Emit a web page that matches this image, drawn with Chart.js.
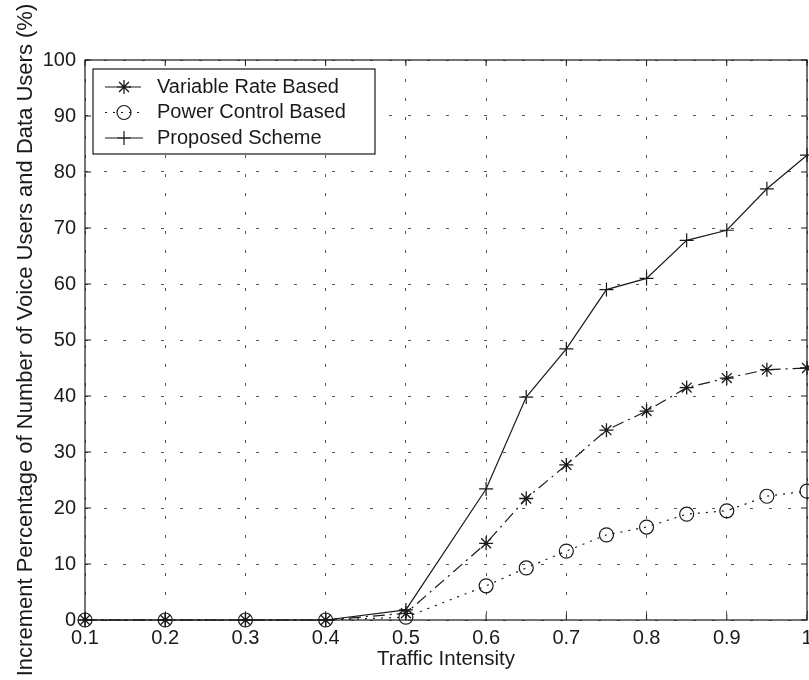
<!DOCTYPE html>
<html lang="en">
<head>
    <meta charset="UTF-8">
    <title>Traffic Intensity</title>
    <script src="https://cdn.jsdelivr.net/npm/chart.js"></script>
    <style>
        html, body {
            margin: 0;
            padding: 0;
            background: #ffffff;
            overflow: hidden;
        }
        .chart-box {
            position: relative;
            width: 830px;
            height: 680px;
        }
    </style>
</head>
<body>
    <div class="chart-box">
        <canvas id="myChart"></canvas>
    </div>
    <script>
        // Traffic intensity values on the x axis
        const trafficIntensity = [0.1, 0.2, 0.3, 0.4, 0.5, 0.6, 0.65, 0.7, 0.75, 0.8, 0.85, 0.9, 0.95, 1.0];

        // Increment percentage (%) for each scheme
        const variableRate = [0, 0, 0, 0, 1.2, 13.7, 21.7, 27.7, 33.9, 37.3, 41.5, 43.2, 44.7, 45];
        const powerControl = [0, 0, 0, 0, 0.5, 6.1, 9.3, 12.3, 15.2, 16.6, 18.9, 19.5, 22.1, 23];
        const proposedScheme = [0, 0, 0, 0, 1.8, 23.4, 39.8, 48.4, 59, 61, 67.8, 69.6, 77, 83];

        const seriesNames = ['Variable Rate Based', 'Power Control Based', 'Proposed Scheme'];

        const ink = '#1a1a1a';
        const fontName = '"Liberation Sans", Arial, Helvetica, sans-serif';

        function toPoints(values) {
            return values.map((v, i) => ({ x: trafficIntensity[i], y: v }));
        }

        // box round the plot, inward ticks and the legend inside the plot
        const matlabFrame = {
            id: 'matlabFrame',
            afterDraw(chart) {
                const ctx = chart.ctx;
                const area = chart.chartArea;
                const xs = chart.scales.x;
                const ys = chart.scales.y;
                ctx.save();
                ctx.setLineDash([]);
                ctx.strokeStyle = ink;
                ctx.lineWidth = 1.2;
                ctx.strokeRect(area.left, area.top, area.right - area.left, area.bottom - area.top);

                ctx.lineWidth = 1;
                ctx.beginPath();
                xs.ticks.forEach(t => {
                    const px = xs.getPixelForValue(t.value);
                    ctx.moveTo(px, area.bottom);
                    ctx.lineTo(px, area.bottom - 6);
                    ctx.moveTo(px, area.top);
                    ctx.lineTo(px, area.top + 6);
                });
                ys.ticks.forEach(t => {
                    const py = ys.getPixelForValue(t.value);
                    ctx.moveTo(area.left, py);
                    ctx.lineTo(area.left + 6, py);
                    ctx.moveTo(area.right, py);
                    ctx.lineTo(area.right - 6, py);
                });
                ctx.stroke();

                // legend
                const bx = area.left + 8, by = area.top + 9, bw = 282, bh = 85;
                ctx.fillStyle = '#ffffff';
                ctx.fillRect(bx, by, bw, bh);
                ctx.strokeStyle = ink;
                ctx.lineWidth = 1.2;
                ctx.strokeRect(bx, by, bw, bh);

                ctx.font = '20px ' + fontName;
                ctx.textBaseline = 'middle';
                ctx.textAlign = 'left';
                chart.data.datasets.forEach((ds, i) => {
                    const ry = by + 18 + i * 25.5;
                    ctx.save();
                    ctx.strokeStyle = ds.borderColor;
                    ctx.lineWidth = ds.borderWidth;
                    ctx.setLineDash(ds.borderDash || []);
                    ctx.beginPath();
                    ctx.moveTo(bx + 12, ry);
                    ctx.lineTo(bx + 50, ry);
                    ctx.stroke();
                    ctx.setLineDash([]);
                    ctx.strokeStyle = ds.pointBorderColor;
                    ctx.fillStyle = 'rgba(0,0,0,0)';
                    ctx.lineWidth = ds.pointBorderWidth;
                    Chart.helpers.drawPoint(ctx, {
                        pointStyle: ds.pointStyle,
                        radius: ds.pointRadius,
                        rotation: 0,
                        borderWidth: ds.pointBorderWidth
                    }, bx + 31, ry);
                    ctx.restore();
                    ctx.fillStyle = ink;
                    ctx.fillText(ds.label, bx + 64, ry);
                });
                ctx.restore();
            }
        };

        const myChart = new Chart(document.getElementById('myChart').getContext('2d'), {
            type: 'line',
            data: {
                datasets: [{
                    label: seriesNames[0],
                    data: toPoints(variableRate),
                    borderColor: ink,
                    borderWidth: 1.2,
                    borderDash: [12, 5, 2, 5],
                    pointStyle: 'star',
                    pointRadius: 7,
                    pointBorderColor: ink,
                    pointBackgroundColor: 'rgba(0,0,0,0)',
                    pointBorderWidth: 1.3,
                    fill: false,
                    clip: false
                }, {
                    label: seriesNames[1],
                    data: toPoints(powerControl),
                    borderColor: ink,
                    borderWidth: 1.2,
                    borderDash: [2, 6],
                    pointStyle: 'circle',
                    pointRadius: 7,
                    pointBorderColor: ink,
                    pointBackgroundColor: 'rgba(0,0,0,0)',
                    pointBorderWidth: 1.2,
                    fill: false,
                    clip: false
                }, {
                    label: seriesNames[2],
                    data: toPoints(proposedScheme),
                    borderColor: ink,
                    borderWidth: 1.2,
                    borderDash: [],
                    pointStyle: 'cross',
                    pointRadius: 7,
                    pointBorderColor: ink,
                    pointBackgroundColor: 'rgba(0,0,0,0)',
                    pointBorderWidth: 1.2,
                    fill: false,
                    clip: false
                }]
            },
            options: {
                responsive: true,
                maintainAspectRatio: false,
                animation: false,
                layout: {
                    padding: { left: 0, right: 23, top: 60, bottom: 0 }
                },
                plugins: {
                    legend: { display: false },
                    tooltip: { enabled: false }
                },
                scales: {
                    x: {
                        type: 'linear',
                        min: 0.1,
                        max: 1,
                        afterFit: s => { s.height = 60; },
                        ticks: {
                            stepSize: 0.1,
                            padding: 6,
                            color: ink,
                            maxRotation: 0,
                            font: { family: fontName, size: 20 },
                            callback: v => String(Number(v.toFixed(1)))
                        },
                        grid: {
                            color: '#555',
                            lineWidth: 1,
                            drawTicks: false
                        },
                        border: { display: false, dash: [3, 16] },
                        title: {
                            display: true,
                            text: 'Traffic Intensity',
                            color: ink,
                            font: { family: fontName, size: 20.5 },
                            padding: { top: 0, bottom: 8 }
                        }
                    },
                    y: {
                        min: 0,
                        max: 100,
                        afterFit: s => { s.width = 85; },
                        ticks: {
                            stepSize: 10,
                            padding: 9,
                            color: ink,
                            font: { family: fontName, size: 20 }
                        },
                        grid: {
                            color: '#555',
                            lineWidth: 1,
                            drawTicks: false
                        },
                        border: { display: false, dash: [3, 16] },
                        title: {
                            display: true,
                            text: 'Increment Percentage of Number of Voice Users and Data Users (%)',
                            color: ink,
                            font: { family: fontName, size: 22 },
                            padding: { top: 13, bottom: 0 }
                        }
                    }
                }
            },
            plugins: [matlabFrame]
        });
    </script>
</body>
</html>
